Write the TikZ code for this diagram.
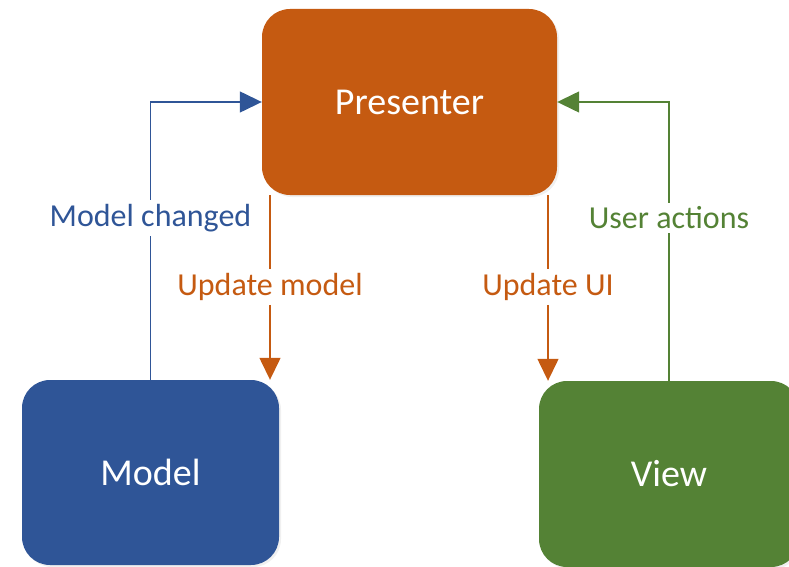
\documentclass[tikz,border=0pt]{standalone}
\usepackage{fontspec}
\setmainfont{Carlito}
\usepackage{xcolor}
\usetikzlibrary{arrows.meta, shadows}

\definecolor{presorange}{HTML}{C55A11}
\definecolor{modelblue}{HTML}{2F5597}
\definecolor{viewgreen}{HTML}{548235}

\begin{document}
\begin{tikzpicture}[x=1pt, y=-1pt,
		box/.style = {rounded corners=28pt, text=white, font=\fontsize{38}{40}\selectfont,
			drop shadow={opacity=0.12, shadow xshift=2pt, shadow yshift=-2pt}},
		flow/.style = {line width=1.4pt, -{Triangle[length=22pt, width=21pt]}},
		lbl/.style = {font=\fontsize{32}{34}\selectfont, inner sep=4pt}]
		
		\useasboundingbox (0,0) rectangle (789,567);
		
		\node[box, fill=presorange, minimum width=295pt, minimum height=186pt] (presenter) at (409.5,102) {Presenter};
		\node[box, fill=modelblue, minimum width=257pt, minimum height=185pt] (model) at (150.5,472.5) {Model};
		\node[box, fill=viewgreen, minimum width=260pt, minimum height=186pt] (view) at (669,474) {View};
		
		\node[lbl, text=modelblue] (modchanged) at (150.5,218) {Model changed};
		\node[lbl, text=presorange] (updmodel) at (270,287) {Update model};
		\node[lbl, text=presorange] (updui) at (548,287) {Update UI};
		\node[lbl, text=viewgreen] (useract) at (669,218) {User actions};
		
		\begin{scope}[flow]
			\draw[modelblue, -] (model.north) -- (modchanged);
			\draw[modelblue] (modchanged) |- (presenter.west);
			\draw[presorange, -] (presenter.south -| updmodel) -- (updmodel);
			\draw[presorange] (updmodel) -- (model.north -| updmodel);
			\draw[presorange, -] (presenter.south -| updui) -- (updui);
			\draw[presorange] (updui) -- (view.north -| updui);
			\draw[viewgreen, -] (view.north) -- (useract);
			\draw[viewgreen] (useract) |- (presenter.east);
		\end{scope}
	\end{tikzpicture}
\end{document}
